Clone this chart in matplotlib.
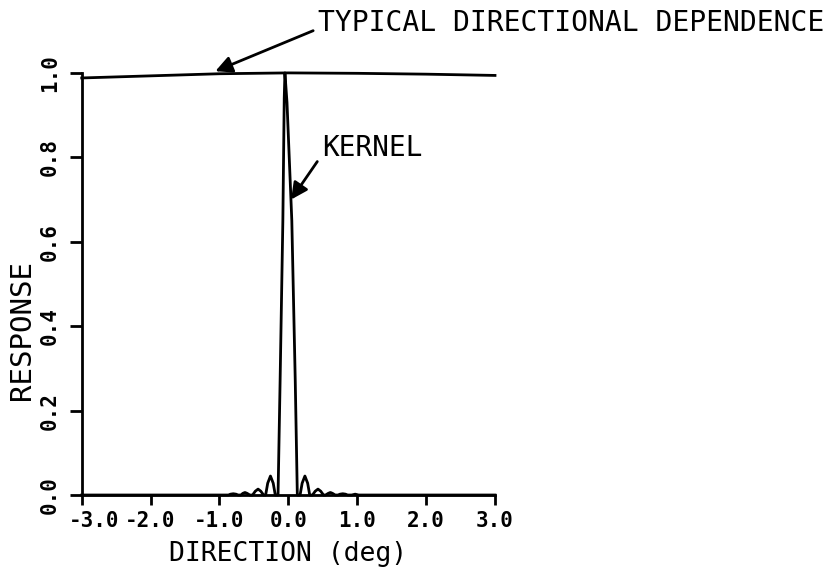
import matplotlib
matplotlib.use("Agg")
import matplotlib.pyplot as plt
from matplotlib.transforms import ScaledTranslation

# ---- data ----
dir_x = [-3.0, -2.0, -1.0, 0.0, 1.0, 2.0, 3.0]
dir_y = [0.988, 0.993, 0.998, 1.0, 0.999, 0.997, 0.994]

kernel_x = [-3.0, -0.95,
            -0.87, -0.84, -0.80, -0.76, -0.73,
            -0.69, -0.66, -0.63, -0.60, -0.56,
            -0.52, -0.48, -0.44, -0.40, -0.36,
            -0.33, -0.30, -0.26, -0.22, -0.19,
            -0.15, -0.12, -0.08, -0.06, -0.05, -0.02, 0.05, 0.10, 0.13,
            0.17, 0.20, 0.24, 0.28, 0.31,
            0.35, 0.39, 0.43, 0.47, 0.51,
            0.54, 0.58, 0.61, 0.64, 0.68,
            0.72, 0.75, 0.79, 0.83, 0.86,
            0.92, 0.97, 1.02, 3.0]
kernel_y = [0.0, 0.0,
            0.0, 0.002, 0.003, 0.002, 0.0,
            0.0, 0.004, 0.006, 0.004, 0.0,
            0.0, 0.009, 0.014, 0.009, 0.0,
            0.0, 0.028, 0.045, 0.028, 0.0,
            0.0, 0.27, 0.65, 0.94, 1.0, 0.93, 0.65, 0.27, 0.0,
            0.0, 0.028, 0.045, 0.028, 0.0,
            0.0, 0.009, 0.014, 0.009, 0.0,
            0.0, 0.004, 0.006, 0.004, 0.0,
            0.0, 0.002, 0.003, 0.002, 0.0,
            0.0, 0.002, 0.0, 0.0]

xticks = [-3.0, -2.0, -1.0, 0.0, 1.0, 2.0, 3.0]
xtick_labels = ["-3.0", "-2.0", "-1.0", "0.0", "1.0", "2.0", "3.0"]
yticks = [0.0, 0.2, 0.4, 0.6, 0.8, 1.0]
ytick_labels = ["0.0", "0.2", "0.4", "0.6", "0.8", "1.0"]

FONT = "DejaVu Sans Mono"
LW = 2.0

fig = plt.figure(figsize=(8.29, 5.74), dpi=100)
ax = fig.add_axes([0.0986, 0.1376, 0.4985, 0.7354])

ax.plot(dir_x, dir_y, color="black", lw=LW, clip_on=False)
ax.plot(kernel_x, kernel_y, color="black", lw=LW, clip_on=False)

ax.set_xlim(-3.0, 3.0)
ax.set_ylim(0.0, 1.0)
for s in ["top", "right"]:
    ax.spines[s].set_visible(False)
for s in ["left", "bottom"]:
    ax.spines[s].set_linewidth(LW)

ax.set_xticks(xticks)
ax.set_xticklabels(xtick_labels, fontfamily=FONT, fontweight="bold", fontsize=15)
ax.set_yticks(yticks)
ax.set_yticklabels(ytick_labels, fontfamily=FONT, fontweight="bold", fontsize=15,
                   rotation=90, va="center")
ax.tick_params(axis="x", direction="out", length=7.5, width=LW, pad=4)
ax.tick_params(axis="y", direction="out", length=8.5, width=LW, pad=7)

# first x label sits slightly right of its tick in the reference
lab0 = ax.get_xticklabels()[0]
lab0.set_transform(lab0.get_transform() + ScaledTranslation(9 / 72, 0, fig.dpi_scale_trans))

ax.set_xlabel("DIRECTION (deg)", fontfamily=FONT, fontsize=19, labelpad=7)
ax.set_ylabel("RESPONSE", fontfamily=FONT, fontsize=21)
ax.yaxis.set_label_coords(-0.110, 0.39)

arrow_kw = dict(arrowstyle="-|>,head_length=1.0,head_width=0.5", color="black",
                lw=LW, shrinkA=0, shrinkB=0)

ax.text(0.43, 1.118, "TYPICAL DIRECTIONAL DEPENDENCE", fontfamily=FONT, fontsize=20.2,
        ha="left", va="center", clip_on=False)
ax.annotate("", xy=(-1.06, 1.004), xytext=(0.36, 1.10), arrowprops=arrow_kw,
            annotation_clip=False)

ax.text(0.49, 0.822, "KERNEL", fontfamily=FONT, fontsize=20,
        ha="left", va="center", clip_on=False)
ax.annotate("", xy=(0.04, 0.70), xytext=(0.42, 0.79), arrowprops=arrow_kw,
            annotation_clip=False)

fig.savefig("out.png", dpi=100)
